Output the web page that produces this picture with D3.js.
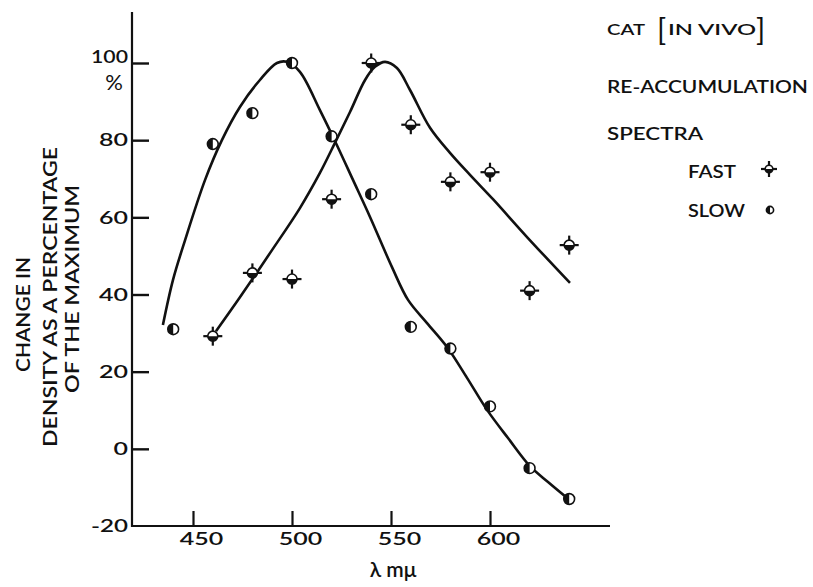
<!DOCTYPE html>
<html>
<head>
<meta charset="utf-8">
<script src="https://cdn.jsdelivr.net/npm/d3@7/dist/d3.min.js"></script>
<style>
  html, body { margin: 0; padding: 0; background: #fff; }
  svg { display: block; }
  text { font-family: Lato, "DejaVu Sans", sans-serif; fill: #111; }
</style>
</head>
<body>
<svg id="chart" width="813" height="587"></svg>
<script>
// Wavelength (mμ) at which each measurement was taken
const wavelengths = [440, 460, 480, 500, 520, 540, 560, 580, 600, 620, 640];
const fastWavelengths = [460, 480, 500, 520, 540, 560, 580, 600, 620, 640];

// Change in density as a percentage of the maximum
const slowValues = [31, 79, 87, 100, 81, 66, 31.6, 26, 11, -5, -13];
const fastValues = [29.2, 45.6, 44, 64.7, 100, 84, 69.2, 71.7, 41, 52.8];

// Hand-fitted smooth curves through each series
const slowCurveX = [434.8, 439.9, 446, 456.1, 464.6, 473.7, 483.8, 492.4, 497.5, 504, 514.1, 522.7, 530.8, 539.4, 550.5, 558.6, 568.2, 578.3, 588.4, 598.5, 609.1, 620.2, 629.3, 638.4];
const slowCurveY = [32.1, 43.8, 54.1, 69.7, 80, 88.6, 95.6, 100, 100.3, 97.7, 87.8, 78.7, 69.7, 60.1, 47.1, 38.6, 32.6, 26.4, 18.4, 10.1, 2.8, -4.5, -8.6, -12.5];
const fastCurveX = [461.6, 473.7, 489.9, 504, 514.1, 521.7, 529.3, 536.9, 541.9, 547, 553, 559.6, 569.7, 579.8, 589.9, 601.5, 618.7, 640.4];
const fastCurveY = [30.5, 39.3, 51.5, 62.4, 71.5, 79.3, 87.3, 95.6, 99, 100.3, 98.7, 93, 83.2, 76.7, 71, 64.7, 54.9, 43];

// Axis ticks
const xTicks = [450, 500, 550, 600];
const yTicks = [-20, 0, 20, 40, 60, 80, 100];

const svg = d3.select("#chart");

const x = d3.scaleLinear().domain([450, 600]).range([193, 490]);
const y = d3.scaleLinear().domain([-20, 100]).range([526, 63]);
const xMin = x.invert(132), xMax = x.invert(610);
const yTop = y.invert(12);

// Wide numerals: width per character for tick labels
const charW = c => c === "1" ? 8 : c === "-" ? 8 : 14.5;
const labelW = s => d3.sum(s.split(""), charW);

const W_TEXT = 600;

// Axes
const axisColor = "#111";
svg.append("line")
  .attr("x1", x(xMin)).attr("x2", x(xMin))
  .attr("y1", y(yTop)).attr("y2", y(-20) + 1)
  .attr("stroke", axisColor).attr("stroke-width", 2.2);
svg.append("line")
  .attr("x1", x(xMin) - 1).attr("x2", x(xMax))
  .attr("y1", y(-20)).attr("y2", y(-20))
  .attr("stroke", axisColor).attr("stroke-width", 2.2);

const yAxis = d3.axisLeft(y)
  .tickValues(yTicks)
  .tickSize(-17)
  .tickPadding(4)
  .tickFormat(d => String(d));
const gy = svg.append("g").attr("transform", `translate(${x(xMin)},0)`).call(yAxis);
gy.select(".domain").remove();
gy.selectAll(".tick line").attr("stroke", axisColor).attr("stroke-width", 2.4)
  .filter(d => d === -20).remove();
gy.selectAll(".tick text")
  .attr("font-family", "Lato, sans-serif")
  .attr("font-size", 18)
  .style("font-weight", W_TEXT)
  .attr("fill", "#111")
  .attr("textLength", d => labelW(String(d)))
  .attr("lengthAdjust", "spacingAndGlyphs")
  .attr("dy", d => d === 100 ? "-0.02em" : "0.32em");

// "%" under the 100 label
svg.append("text")
  .attr("x", 114).attr("y", 90)
  .attr("text-anchor", "middle")
  .attr("font-size", 22)
  .style("font-weight", 400)
  .text("%");

const xAxis = d3.axisBottom(x)
  .tickValues(xTicks)
  .tickSize(-15)
  .tickPadding(6);
const gx = svg.append("g").attr("transform", `translate(0,${y(-20)})`).call(xAxis);
gx.select(".domain").remove();
gx.selectAll(".tick line").attr("stroke", axisColor).attr("stroke-width", 2.2);
gx.selectAll(".tick text")
  .attr("font-family", "Lato, sans-serif")
  .attr("font-size", 18)
  .style("font-weight", W_TEXT)
  .attr("fill", "#111")
  .attr("textLength", d => labelW(String(d)))
  .attr("lengthAdjust", "spacingAndGlyphs")
  .attr("dx", 8);

// Axis titles
svg.append("text")
  .attr("x", 393).attr("y", 577)
  .attr("text-anchor", "middle")
  .attr("font-size", 21)
  .style("font-weight", W_TEXT)
  .text("λ mμ");

const yTitle = [
  { text: "CHANGE IN", bx: 30, by: 372, len: 115 },
  { text: "DENSITY AS A PERCENTAGE", bx: 57, by: 447, len: 300 },
  { text: "OF THE MAXIMUM", bx: 79, by: 393, len: 208 }
];
svg.selectAll(".ytitle").data(yTitle).join("text")
  .attr("class", "ytitle")
  .attr("transform", d => `translate(${d.bx},${d.by}) rotate(-90)`)
  .attr("font-size", 20)
  .style("font-weight", W_TEXT)
  .attr("text-anchor", "start")
  .attr("textLength", d => d.len)
  .attr("lengthAdjust", "spacingAndGlyphs")
  .text(d => d.text);

// Fitted curves
const line = d3.line()
  .x(d => x(d[0])).y(d => y(d[1]))
  .curve(d3.curveCatmullRom.alpha(0.5));
svg.append("path")
  .attr("d", line(d3.zip(slowCurveX, slowCurveY)))
  .attr("fill", "none").attr("stroke", "#111").attr("stroke-width", 2.6);
svg.append("path")
  .attr("d", line(d3.zip(fastCurveX, fastCurveY)))
  .attr("fill", "none").attr("stroke", "#111").attr("stroke-width", 2.6);

// Marker drawing helpers
function slowMarker(g, r) {
  g.append("circle").attr("r", r).attr("fill", "#fff").attr("stroke", "#111").attr("stroke-width", 1.6);
  g.append("path").attr("d", `M0,${-r} A${r},${r} 0 0 0 0,${r} Z`).attr("fill", "#111");
}
function fastMarker(g, r, arm) {
  g.append("line").attr("x1", -arm).attr("x2", arm).attr("y1", 0).attr("y2", 0)
    .attr("stroke", "#111").attr("stroke-width", 2.2);
  g.append("line").attr("x1", 0).attr("x2", 0).attr("y1", -arm).attr("y2", arm)
    .attr("stroke", "#111").attr("stroke-width", 2.2);
  g.append("circle").attr("r", r).attr("fill", "#fff").attr("stroke", "#111").attr("stroke-width", 1.6);
  g.append("path").attr("d", `M${-r},0 A${r},${r} 0 0 0 ${r},0 Z`).attr("fill", "#111");
}

// Data points
svg.selectAll(".slow").data(d3.zip(wavelengths, slowValues)).join("g")
  .attr("class", "slow")
  .attr("transform", d => `translate(${x(d[0])},${y(d[1])})`)
  .each(function () { slowMarker(d3.select(this), 5.4); });

svg.selectAll(".fast").data(d3.zip(fastWavelengths, fastValues)).join("g")
  .attr("class", "fast")
  .attr("transform", d => `translate(${x(d[0])},${y(d[1])})`)
  .each(function () { fastMarker(d3.select(this), 5, 9.5); });

// Legend / caption
const caption = (tx, ty, size, len, str) => svg.append("text")
  .attr("x", tx).attr("y", ty).attr("font-size", size)
  .style("font-weight", W_TEXT)
  .attr("textLength", len).attr("lengthAdjust", "spacingAndGlyphs").text(str);

caption(607, 35, 14.5, 38, "CAT");
svg.append("text").attr("x", 657).attr("y", 41).attr("font-size", 30).style("font-weight", 400).text("[");
caption(668, 35, 14.5, 88, "IN VIVO");
svg.append("text").attr("x", 756).attr("y", 41).attr("font-size", 30).style("font-weight", 400).text("]");

caption(607, 93, 18, 201, "RE-ACCUMULATION");
caption(607, 140, 18, 96, "SPECTRA");
caption(688, 178, 18, 48, "FAST");
caption(688, 217, 18, 57, "SLOW");

fastMarker(svg.append("g").attr("transform", "translate(769,169)"), 3.8, 8);
slowMarker(svg.append("g").attr("transform", "translate(770,210)"), 3.6);
</script>
</body>
</html>
